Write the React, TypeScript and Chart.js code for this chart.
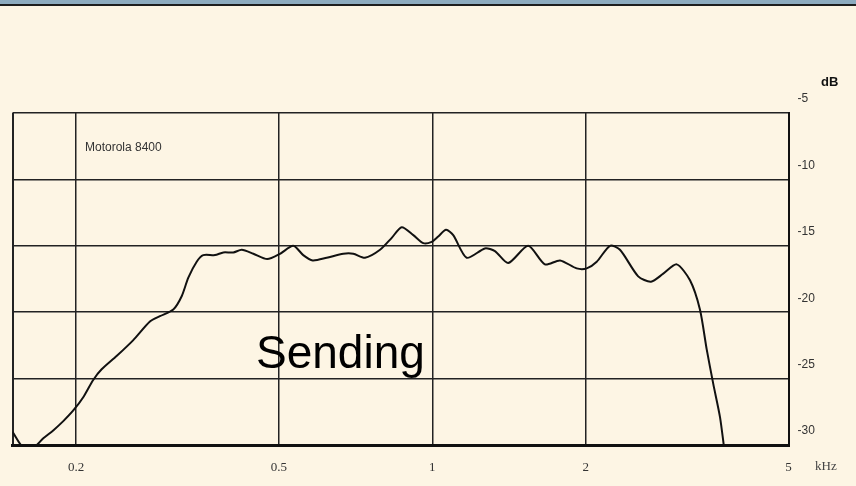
import React, { useEffect, useRef } from "react";
import { Chart, registerables } from "chart.js";

Chart.register(...registerables);

// Frequency (kHz) of each traced point of the response curve
const freqs = [
  0.15, 0.1575, 0.1649, 0.1724, 0.1803, 0.1887, 0.1974, 0.2065, 0.216, 0.2244,
  0.2401, 0.2589, 0.2791, 0.292, 0.3102, 0.3222, 0.332, 0.3448, 0.3552, 0.3745,
  0.3888, 0.4068, 0.4227, 0.4454, 0.4743, 0.5024, 0.5334, 0.558, 0.5823, 0.6204,
  0.6687, 0.6997, 0.7377, 0.7896, 0.8324, 0.8708, 0.9176, 0.9599, 0.9971, 1.027,
  1.064, 1.099, 1.168, 1.268, 1.327, 1.409, 1.542, 1.663, 1.781, 1.92,
  2.009, 2.102, 2.232, 2.335, 2.535, 2.686, 2.839, 3.017, 3.204, 3.351,
  3.455, 3.559, 3.669, 3.74,
];

// Level (dB) of the sending response at each frequency
const sendingDb = [
  -29.0, -30.2, -30.2, -29.5, -28.9, -28.2, -27.4, -26.4, -25.1, -24.3,
  -23.3, -22.1, -20.7, -20.3, -19.8, -18.8, -17.4, -16.2, -15.7, -15.7,
  -15.5, -15.5, -15.3, -15.6, -16.0, -15.6, -15.0, -15.7, -16.1, -15.9,
  -15.6, -15.6, -15.9, -15.3, -14.4, -13.6, -14.2, -14.8, -14.7, -14.3,
  -13.8, -14.2, -15.9, -15.2, -15.4, -16.3, -15.0, -16.4, -16.1, -16.7,
  -16.7, -16.2, -15.0, -15.3, -17.3, -17.7, -17.1, -16.4, -17.6, -19.8,
  -22.8, -25.4, -27.9, -30.3,
];

const xTickValues = [0.15, 0.2, 0.5, 1, 2, 5];
const xTickLabels = ["", "0.2", "0.5", "1", "2", "5"];
const yTickValues = [-5, -10, -15, -20, -25, -30];
const yTickLabels = ["-5", "-10", "-15", "-20", "-25", "-30"];

const xUnit = "kHz";
const yUnit = "dB";
const deviceLabel = "Motorola 8400";
const curveLabel = "Sending";

const textPlugin = {
  id: "annotText",
  afterDraw(chart: any) {
    const ctx = chart.ctx;
    ctx.save();
    ctx.textBaseline = "middle";
    ctx.textAlign = "left";
    ctx.fillStyle = "#111";
    ctx.font = "bold 13px 'Liberation Sans'";
    ctx.fillText(yUnit, 821, 82);
    ctx.font = "13px 'Liberation Serif'";
    ctx.fillStyle = "#444";
    ctx.fillText(xUnit, 815, 467);
    ctx.font = "12px 'Liberation Sans'";
    ctx.fillStyle = "#333";
    ctx.fillText(deviceLabel, 85, 148);
    ctx.textBaseline = "alphabetic";
    ctx.fillStyle = "#000";
    ctx.font = "46px 'Liberation Sans'";
    ctx.fillText(curveLabel, 256, 368);
    ctx.restore();
  },
};

export default function App() {
  const ref = useRef<HTMLCanvasElement | null>(null);

  useEffect(() => {
    if (!ref.current) return;
    const data = freqs.map((f, i) => ({ x: f, y: sendingDb[i] }));
    const chart = new Chart(ref.current, {
      type: "line",
      data: {
        datasets: [
          {
            label: curveLabel,
            data,
            borderColor: "#111",
            borderWidth: 2,
            pointRadius: 0,
            tension: 0.25,
            fill: false,
          },
        ],
      },
      options: {
        animation: false,
        responsive: false,
        maintainAspectRatio: false,
        layout: { padding: { left: 12.5, top: 113, right: 0, bottom: 0 } },
        plugins: {
          legend: { display: false },
          tooltip: { enabled: false },
        },
        scales: {
          x: {
            type: "logarithmic",
            position: "bottom",
            min: 0.15,
            max: 5,
            afterBuildTicks: (scale: any) => {
              scale.ticks = xTickValues.map((v) => ({ value: v }));
            },
            afterFit: (scale: any) => {
              scale.height = 41;
              scale.paddingLeft = 0;
              scale.paddingRight = 0;
            },
            ticks: {
              autoSkip: false,
              maxRotation: 0,
              padding: 15,
              color: "#333",
              font: { family: "'Liberation Serif'", size: 13 },
              callback: (v: any) => {
                const i = xTickValues.indexOf(Number(v));
                return i >= 0 ? xTickLabels[i] : "";
              },
            },
            grid: {
              drawTicks: false,
              color: "#222",
              lineWidth: (c: any) => {
                const v = c.tick ? c.tick.value : 0;
                return v === 0.15 || v === 5 ? 2 : 1.5;
              },
            },
            border: { display: true, color: "#111", width: 3 },
          },
          y: {
            type: "linear",
            position: "right",
            min: -30,
            max: -5,
            afterBuildTicks: (scale: any) => {
              scale.ticks = yTickValues.map((v) => ({ value: v }));
            },
            afterFit: (scale: any) => {
              scale.width = 67.5;
            },
            ticks: {
              padding: 9,
              labelOffset: -14,
              color: "#333",
              font: { family: "'Liberation Sans'", size: 12 },
              callback: (v: any) => {
                const i = yTickValues.indexOf(Number(v));
                return i >= 0 ? yTickLabels[i] : "";
              },
            },
            grid: { drawTicks: false, color: "#222", lineWidth: 1.5 },
            border: { display: true, color: "#111", width: 2 },
          },
        },
      },
      plugins: [textPlugin],
    });
    return () => chart.destroy();
  }, []);

  return (
    <div
      style={{
        position: "fixed",
        left: 0,
        top: 0,
        width: 856,
        height: 486,
        background: "#FDF5E4",
        overflow: "hidden",
      }}
    >
      <div style={{ position: "absolute", left: 0, top: 0, width: 856, height: 4, background: "#8DABBF" }} />
      <div style={{ position: "absolute", left: 0, top: 4, width: 856, height: 2, background: "#1E1E1E" }} />
      <canvas ref={ref} width={856} height={486} style={{ position: "absolute", left: 0, top: 0, width: 856, height: 486 }} />
    </div>
  );
}
